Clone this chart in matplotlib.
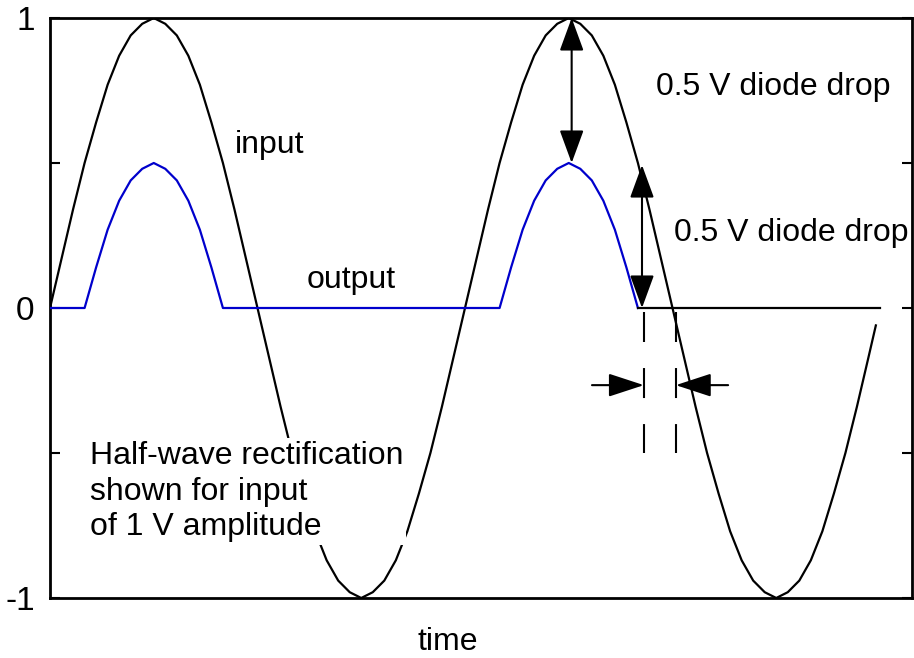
import matplotlib
matplotlib.use("Agg")
import matplotlib.pyplot as plt
import numpy as np

plt.rcParams['font.family'] = ['Liberation Sans', 'DejaVu Sans']

# time in periods of the input sine, sampled every 10 degrees
time = np.arange(0, 72) / 36
one_period_in = [0, 0.17, 0.34, 0.50, 0.64, 0.77, 0.87, 0.94, 0.98, 1.00, 0.98, 0.94,
                 0.87, 0.77, 0.64, 0.50, 0.34, 0.17, 0, -0.17, -0.34, -0.50, -0.64, -0.77,
                 -0.87, -0.94, -0.98, -1.00, -0.98, -0.94, -0.87, -0.77, -0.64, -0.50, -0.34, -0.17]
one_period_out = [0, 0, 0, 0, 0.14, 0.27, 0.37, 0.44, 0.48, 0.50, 0.48, 0.44,
                  0.37, 0.27, 0.14, 0, 0, 0, 0, 0, 0, 0, 0, 0,
                  0, 0, 0, 0, 0, 0, 0, 0, 0, 0, 0, 0]
input_v = one_period_in * 2
output_v = one_period_out * 2
t_end, v_end = 1.99, -0.06          # last sample of the input trace
n_blue = 52                          # output drawn in blue up to the 2nd hump end
flat_end = 2.0

# annotation anchors (time, volts)
drop_arrow1 = (1.257, 1.0, 0.5)
drop_arrow2 = (1.4265, 0.493, 0.0)
dash_x = [1.431, 1.508]
dash_y = (-0.014, -0.5)
hz_y = -0.266
hz_left = (1.306, 1.431)
hz_right = (1.634, 1.508)

W, H = 914, 658
fig = plt.figure(figsize=(W / 100, H / 100), dpi=100)
ax = fig.add_axes([50 / W, 1 - 598 / H, 862 / W, 580 / H])


def px(x, y):
    return x / W, 1 - y / H


ax.plot(list(time) + [t_end], input_v + [v_end], color='k', lw=1.6, zorder=2)
ax.plot(time[:n_blue], output_v[:n_blue], color='#0000cc', lw=1.6, zorder=3)
ax.plot([time[n_blue - 1], flat_end], [0, 0], color='k', lw=1.6, zorder=3)

ax.set_xlim(0, 862 / 415)
ax.set_ylim(-1, 1)
ax.set_xticks([])
ax.set_yticks([-1, -0.5, 0, 0.5, 1])
ax.set_yticklabels(['-1', '', '0', '', '1'], fontsize=24)
ax.tick_params(axis='y', direction='in', length=7, width=1.5, right=True, pad=11)
for s in ax.spines.values():
    s.set_linewidth(2)

vstyle = "<|-|>,head_length=20.5,head_width=7.5"
for x, y0, y1 in [drop_arrow1, drop_arrow2]:
    ax.annotate('', xy=(x, y1), xytext=(x, y0),
                arrowprops=dict(arrowstyle=vstyle, mutation_scale=1, shrinkA=0, shrinkB=0,
                                lw=1.5, color='k'), zorder=5)

hstyle = "-|>,head_length=22,head_width=7.2"
for x0, x1 in [hz_left, hz_right]:
    ax.annotate('', xy=(x1, hz_y), xytext=(x0, hz_y),
                arrowprops=dict(arrowstyle=hstyle, mutation_scale=1, shrinkA=0, shrinkB=0,
                                lw=1.5, color='k'), zorder=5)

ax.vlines(dash_x, dash_y[0], dash_y[1], colors='k', lw=1.5,
          linestyles=(0, (14.4, 12.5)), zorder=4)

fs = 23
fig.text(*px(235, 153), 'input', fontsize=fs, va='baseline')
fig.text(*px(307, 288), 'output', fontsize=fs, va='baseline')
fig.text(*px(656, 95), '0.5 V diode drop', fontsize=fs, va='baseline')
fig.text(*px(674, 241), '0.5 V diode drop', fontsize=fs, va='baseline')
fig.text(*px(417, 650), 'time', fontsize=fs, va='baseline')
fig.text(*px(90, 441), 'Half-wave rectification\nshown for input\nof 1 V amplitude',
         fontsize=fs, va='top', linespacing=1.25,
         bbox=dict(facecolor='white', edgecolor='none', pad=2))

fig.savefig('out.png', dpi=100)
